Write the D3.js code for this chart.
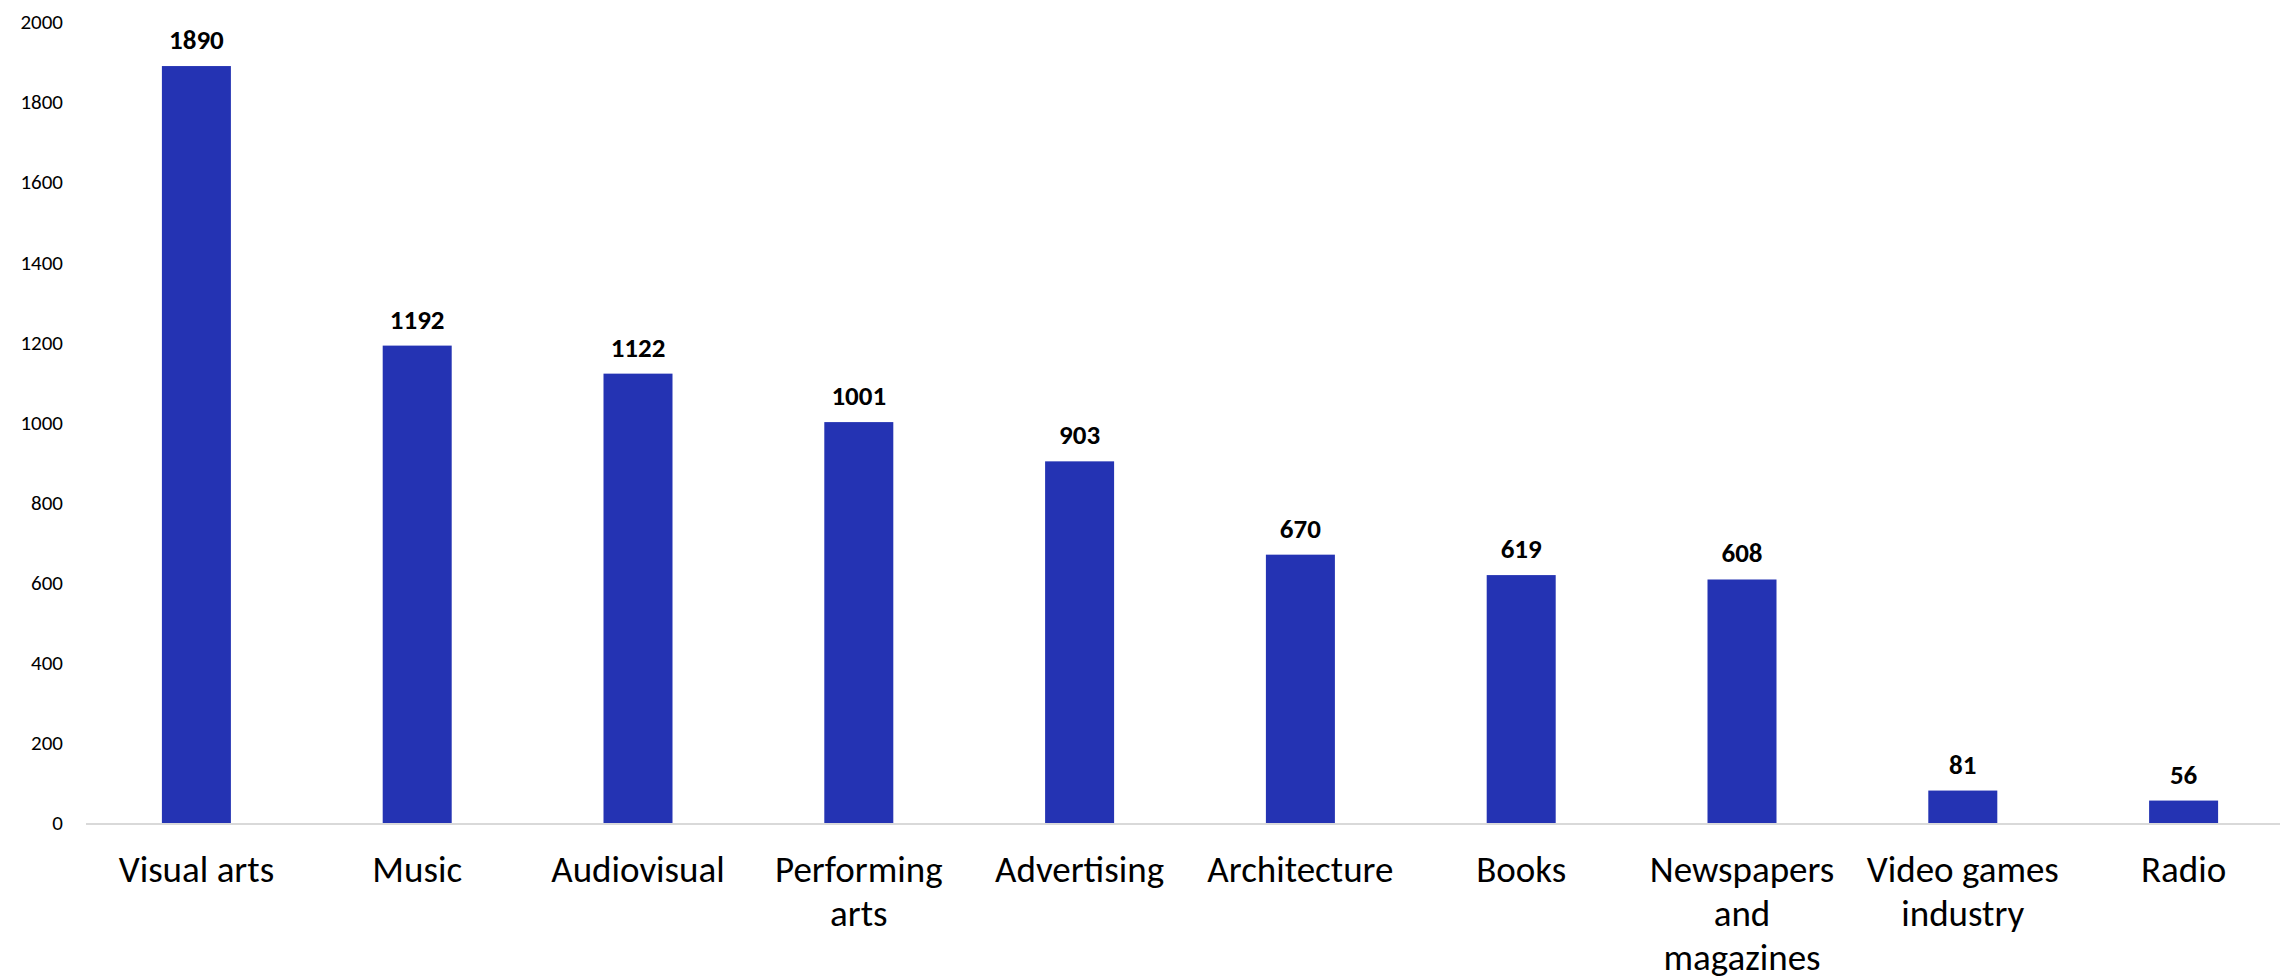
<!DOCTYPE html>
<html>
<head>
<meta charset="utf-8">
<script src="https://cdn.jsdelivr.net/npm/d3@7"></script>
<style>
  html, body { margin: 0; padding: 0; background: #ffffff; }
  svg { display: block; }
  text { font-family: Carlito, Calibri, Lato, "Open Sans", sans-serif; fill: #000; }
</style>
</head>
<body>
<svg id="chart" width="2280" height="979"></svg>
<script>
// Categories, each split into the lines shown under the axis
const categories = [
  "Visual arts", "Music", "Audiovisual", "Performing arts", "Advertising",
  "Architecture", "Books", "Newspapers and magazines", "Video games industry", "Radio"
];
const categoryLines = [
  ["Visual arts"], ["Music"], ["Audiovisual"], ["Performing", "arts"], ["Advertising"],
  ["Architecture"], ["Books"], ["Newspapers", "and", "magazines"], ["Video games", "industry"], ["Radio"]
];
const values = [1890, 1192, 1122, 1001, 903, 670, 619, 608, 81, 56];
const yTicks = [0, 200, 400, 600, 800, 1000, 1200, 1400, 1600, 1800, 2000];

const svg = d3.select("#chart");

const x = d3.scaleBand()
  .domain(categories)
  .range([86, 2294])
  .paddingInner(0.6875)
  .paddingOuter(0.34375);

const y = d3.scaleLinear()
  .domain([0, 2000])
  .range([823, 22]);

// Y axis labels (no axis line or ticks)
const yAxis = d3.axisLeft(y).tickValues(yTicks).tickFormat(d3.format("d")).tickSize(0).tickPadding(0);
svg.append("g")
  .attr("transform", "translate(63,0)")
  .call(yAxis)
  .call(g => g.select(".domain").remove())
  .call(g => g.selectAll("text")
    .attr("font-size", 21)
    .attr("font-family", "Carlito, Calibri, Lato, 'Open Sans', sans-serif")
    .attr("fill", "#000"));

// Bars
svg.append("g")
  .selectAll("rect")
  .data(values)
  .join("rect")
  .attr("x", (d, i) => x(categories[i]))
  .attr("y", d => y(d))
  .attr("width", x.bandwidth())
  .attr("height", d => y(0) - y(d))
  .attr("fill", "#2433B3");

// Baseline
svg.append("line")
  .attr("x1", 86).attr("x2", 2280)
  .attr("y1", y(0) + 1).attr("y2", y(0) + 1)
  .attr("stroke", "#d9d9d9")
  .attr("stroke-width", 2);

// Value labels above bars
svg.append("g")
  .selectAll("text")
  .data(values)
  .join("text")
  .attr("x", (d, i) => x(categories[i]) + x.bandwidth() / 2)
  .attr("y", d => y(d) - 17)
  .attr("text-anchor", "middle")
  .attr("font-size", 27)
  .attr("font-weight", "bold")
  .text(d => d);

// Category labels
const catG = svg.append("g")
  .selectAll("text")
  .data(categoryLines)
  .join("text")
  .attr("x", (d, i) => x(categories[i]) + x.bandwidth() / 2)
  .attr("y", 882)
  .attr("text-anchor", "middle")
  .attr("font-size", 37);

catG.selectAll("tspan")
  .data((d, i) => d.map(line => ({ line, cx: x(categories[i]) + x.bandwidth() / 2 })))
  .join("tspan")
  .attr("x", d => d.cx)
  .attr("dy", (d, j) => j === 0 ? 0 : 44)
  .text(d => d.line);
</script>
</body>
</html>
